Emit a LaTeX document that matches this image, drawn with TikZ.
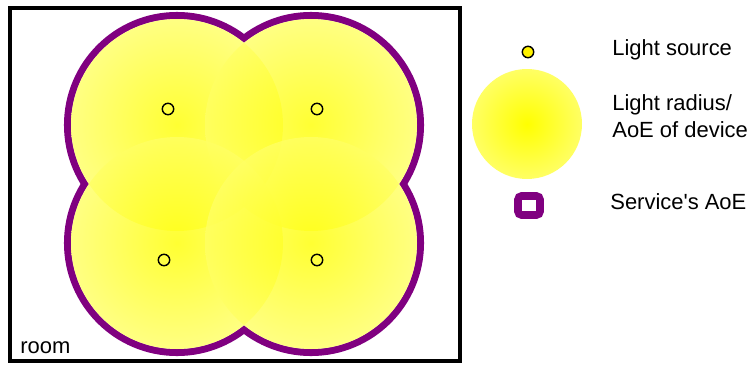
\documentclass[tikz,border=0pt]{standalone}
\usepackage{xcolor}
\usepackage{fontspec}
\setmainfont{Liberation Sans}
\usepackage{tikz}
\usetikzlibrary{positioning}

\definecolor{aoepurple}{RGB}{128,0,128}
\pgfdeclareradialshading{glow}{\pgfpoint{0bp}{0bp}}{color(0bp)=(yellow); color(50bp)=(yellow!22)}
\tikzset{
    lamp/.style={draw=black, line width=0.8pt},
    glowdisc/.style={shading=glow, fill opacity=0.8},
    legendtext/.style={anchor=base west, inner sep=0pt, font=\fontsize{12.5}{15}\selectfont}
}

\begin{document}
\begin{tikzpicture}[x=0.02cm, y=-0.02cm]
        \useasboundingbox (0,0) rectangle (751,365);
        % room
        \draw[line width=2.3pt] (10,8) rectangle (460,361);
        \node[legendtext] (room) at (20,353) {room};

        % service area: outer half of a thick stroke shows
        \foreach \cx/\cy in {177/125, 311/125, 177/243, 311/243}
            \draw[aoepurple, line width=8pt] (\cx,\cy) circle (106);
        \foreach \cx/\cy in {177/125, 311/125, 177/243, 311/243}
            \fill[white] (\cx,\cy) circle (106);

        % light radius of each device
        \foreach \cx/\cy in {177/125, 311/125, 177/243, 311/243}
            \shade[glowdisc] (\cx,\cy) circle (106);

        % light sources
        \node[lamp, circle, minimum size=6.5pt, inner sep=0pt] (lamp1) at (168,109) {};
        \node[lamp, circle, minimum size=6.5pt, inner sep=0pt] (lamp2) at (317,109) {};
        \node[lamp, circle, minimum size=6.5pt, inner sep=0pt] (lamp3) at (164,260) {};
        \node[lamp, circle, minimum size=6.5pt, inner sep=0pt] (lamp4) at (317,260) {};

        % legend
        \node[lamp, circle, fill=yellow, minimum size=6.5pt, inner sep=0pt] (keysource) at (528,52) {};
        \node[legendtext] (txtsource) at (612,55) {Light source};

        \shade[shading=glow] (527,124) circle (55);
        \node[legendtext] (txtradius) at (612,110) {Light radius/};
        \node[legendtext] (txtdevice) at (612,137) {AoE of device};

        \draw[aoepurple, line width=4.3pt, rounded corners=2pt] (518,196) rectangle (540,215);
        \node[legendtext] (txtservice) at (610,209) {Service\textquotesingle s AoE};
    \end{tikzpicture}
\end{document}
